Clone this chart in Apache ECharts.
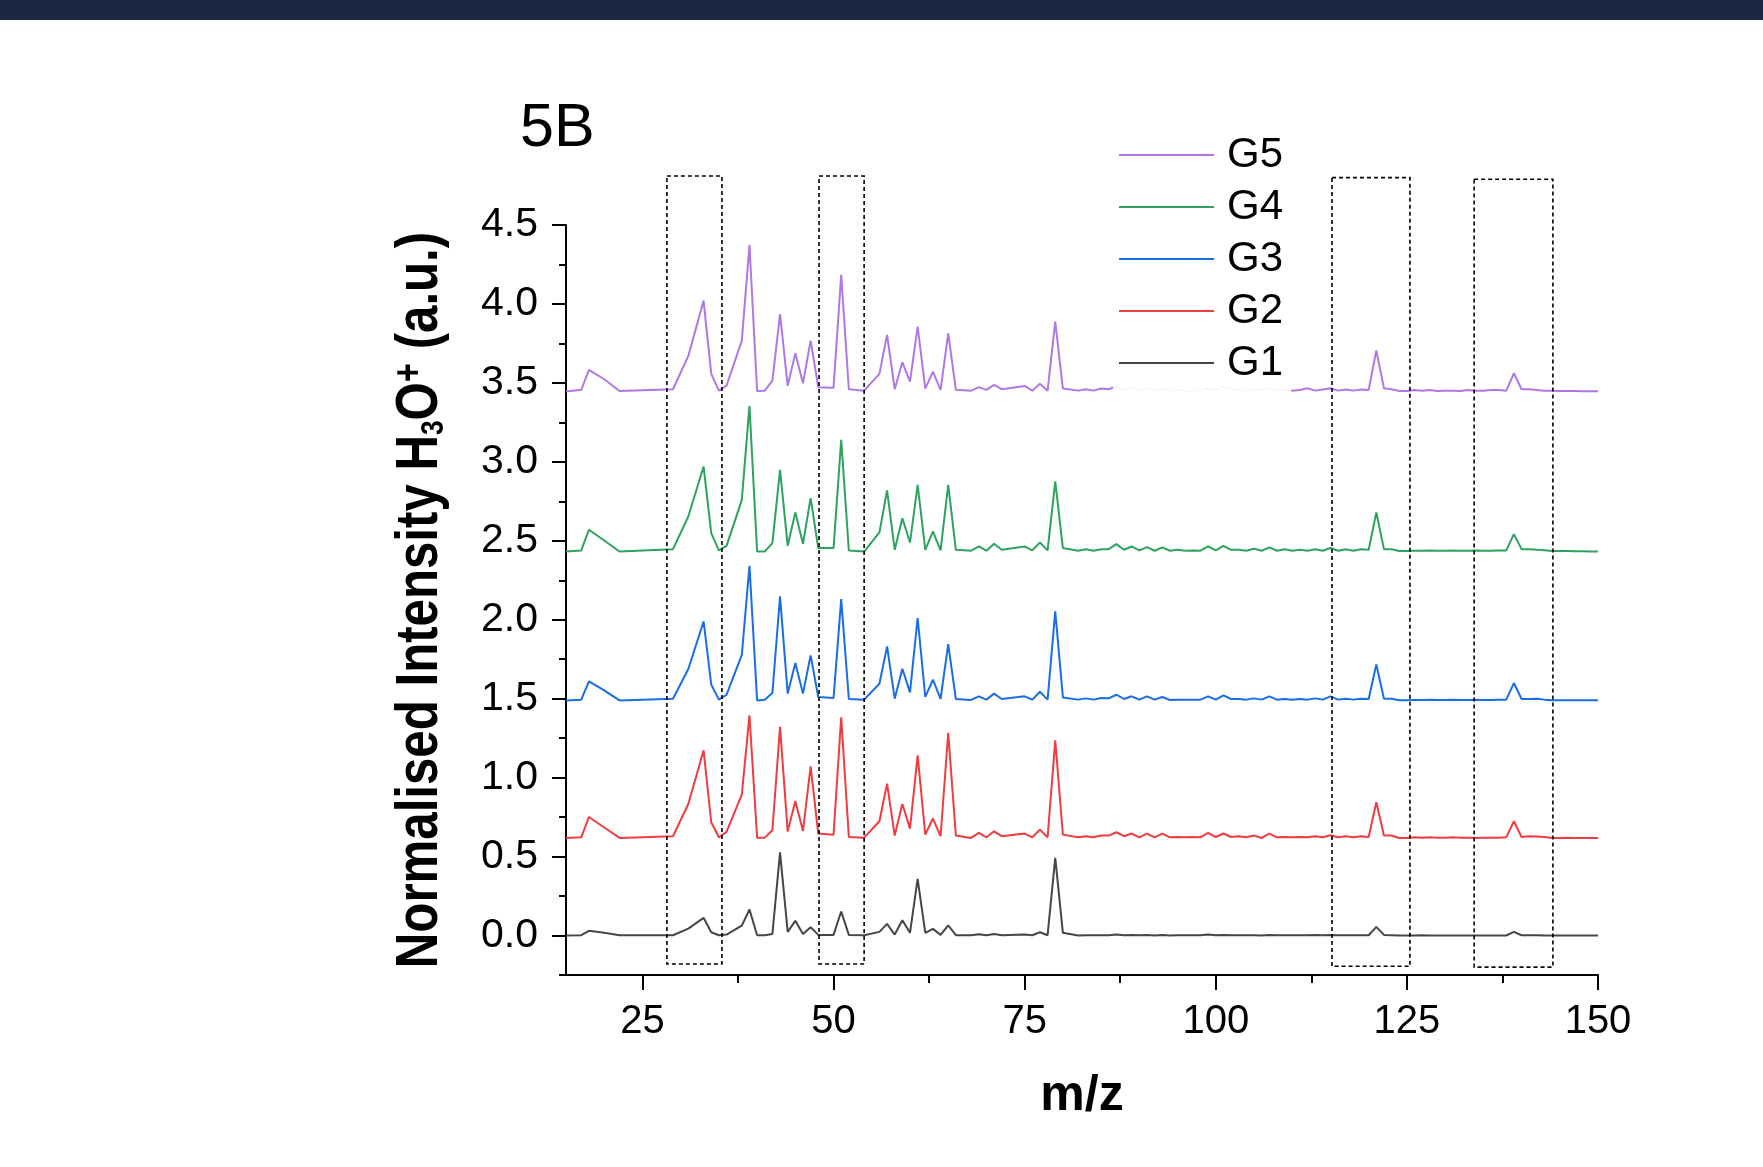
<!DOCTYPE html>
<html>
<head>
<meta charset="utf-8">
<script src="https://cdn.jsdelivr.net/npm/echarts@6/dist/echarts.min.js"></script>
<style>
html,body{margin:0;padding:0;background:#fff;}
#c{width:1763px;height:1167px;}
</style>
</head>
<body>
<div id="c"></div>
<script>
// ---- data ----
const mz = [15,17,18,20,22,29,31,33,34,35,36,38,39,40,41,42,43,44,45,46,47,48,50,51,52,54,56,57,58,59,60,61,62,63,64,65,66,68,69,70,71,72,75,76,77,78,79,80,
  82,83,84,85,86,87,88,89,90,91,92,93,94,95,96,97,98,99,100,101,102,103,104,105,106,107,108,109,110,111,112,113,114,115,116,117,118,119,120,121,122,123,124,125,126,127,128,129,130,131,132,133,134,135,136,137,138,139,140,141,142,143,144,145,146,147,148,149,150];

const g1 = [0.000,0.002,0.030,0.017,0.002, 0.002,0.044,0.112,0.021,0.002, 0.006,0.063,0.165,0.002,0.002, 0.010,0.527,0.023,0.093,0.010, 0.053,0.004,0.004,0.152,0.004, 0.002,0.023,0.074,0.006,0.097, 0.017,0.359,0.017,0.042,0.004, 0.065,0.002,0.002,0.008,0.002, 0.010,0.002,0.006,0.002,0.021, 0.002,0.492,0.017,
  0.000,0.002,0.002,0.002,0.002,0.006,0.002,0.004,0.002,0.004,
  0.000,0.004,0.000,0.002,0.002,0.002,0.002,0.006,0.002,0.004,
  0.002,0.002,0.002,0.002,0.000,0.004,0.002,0.002,0.002,0.002,
  0.002,0.004,0.002,0.004,0.002,0.002,0.002,0.002,0.002,0.055,
  0.004,0.002,0.000,0.000,0.000,0.002,0.000,0.000,0.000,0.000,
  0.000,0.000,0.000,0.000,0.000,0.000,0.000,0.023,0.002,0.002,
  0.002,0.000,0.000,0.000,0.000,0.000,0.000,0.000,0.000];

const g2 = [0.618,0.622,0.751,0.684,0.618, 0.629,0.833,1.173,0.717,0.622, 0.656,0.892,1.395,0.620,0.620, 0.667,1.321,0.658,0.852,0.662, 1.072,0.646,0.639,1.382,0.624, 0.620,0.724,0.962,0.633,0.833, 0.677,1.141,0.639,0.741,0.629, 1.283,0.633,0.618,0.650,0.622, 0.660,0.629,0.646,0.622,0.671, 0.622,1.236,0.639,
  0.622,0.629,0.622,0.633,0.633,0.654,0.629,0.646,0.622,0.646,
  0.622,0.646,0.622,0.624,0.622,0.624,0.622,0.650,0.624,0.646,
  0.624,0.629,0.622,0.633,0.618,0.646,0.622,0.624,0.622,0.624,
  0.622,0.629,0.622,0.635,0.622,0.629,0.622,0.629,0.624,0.844,
  0.633,0.633,0.618,0.618,0.622,0.620,0.622,0.620,0.620,0.622,
  0.620,0.620,0.618,0.620,0.620,0.620,0.622,0.724,0.624,0.629,
  0.627,0.624,0.618,0.618,0.620,0.618,0.618,0.618,0.618];

const g3 = [1.489,1.494,1.610,1.553,1.489, 1.500,1.688,1.989,1.589,1.494, 1.525,1.778,2.342,1.489,1.494, 1.536,2.148,1.532,1.726,1.532, 1.774,1.511,1.504,2.131,1.498, 1.494,1.595,1.831,1.500,1.690, 1.540,2.011,1.511,1.620,1.498, 1.846,1.498,1.492,1.515,1.494, 1.532,1.498,1.515,1.494,1.544, 1.494,2.053,1.508,
  1.494,1.502,1.494,1.504,1.502,1.525,1.498,1.515,1.494,1.515,
  1.494,1.511,1.492,1.494,1.494,1.494,1.494,1.515,1.494,1.521,
  1.498,1.498,1.494,1.502,1.494,1.515,1.494,1.498,1.494,1.498,
  1.494,1.502,1.494,1.515,1.494,1.500,1.494,1.500,1.498,1.716,
  1.500,1.500,1.490,1.490,1.492,1.492,1.494,1.492,1.492,1.494,
  1.492,1.492,1.494,1.492,1.492,1.494,1.494,1.599,1.498,1.498,
  1.500,1.494,1.490,1.490,1.490,1.490,1.490,1.490,1.490];

const g4 = [2.432,2.439,2.570,2.502,2.432, 2.447,2.654,2.970,2.549,2.439, 2.468,2.759,3.354,2.432,2.432, 2.485,2.949,2.468,2.679,2.481, 2.770,2.454,2.454,3.139,2.439, 2.432,2.553,2.819,2.443,2.643, 2.489,2.854,2.443,2.559,2.439, 2.854,2.443,2.437,2.464,2.437, 2.481,2.443,2.464,2.439,2.489, 2.439,2.876,2.454,
  2.437,2.447,2.437,2.447,2.447,2.479,2.443,2.464,2.439,2.460,
  2.437,2.458,2.437,2.443,2.437,2.439,2.437,2.464,2.439,2.468,
  2.443,2.443,2.437,2.450,2.437,2.458,2.437,2.447,2.437,2.443,
  2.437,2.447,2.437,2.454,2.437,2.447,2.437,2.447,2.443,2.679,
  2.447,2.447,2.435,2.435,2.437,2.437,2.439,2.437,2.437,2.439,
  2.437,2.437,2.439,2.437,2.437,2.439,2.439,2.542,2.447,2.447,
  2.443,2.440,2.435,2.435,2.435,2.433,2.433,2.432,2.432];

const g5 = [3.445,3.456,3.582,3.523,3.449, 3.460,3.671,4.021,3.557,3.451, 3.483,3.768,4.373,3.449,3.451, 3.515,3.935,3.481,3.688,3.498, 3.768,3.473,3.470,4.184,3.460, 3.451,3.557,3.804,3.460,3.631, 3.508,3.857,3.464,3.571,3.456, 3.814,3.456,3.451,3.473,3.456, 3.487,3.460,3.481,3.451,3.494, 3.451,3.888,3.464,
  3.451,3.460,3.451,3.464,3.460,3.480,3.455,3.470,3.452,3.468,
  3.451,3.466,3.451,3.455,3.451,3.453,3.451,3.470,3.453,3.474,
  3.455,3.455,3.451,3.460,3.451,3.468,3.451,3.458,3.451,3.455,
  3.466,3.451,3.458,3.466,3.451,3.458,3.451,3.458,3.455,3.705,
  3.466,3.460,3.449,3.449,3.455,3.451,3.455,3.449,3.451,3.451,
  3.449,3.455,3.451,3.451,3.455,3.455,3.451,3.561,3.460,3.460,
  3.455,3.451,3.451,3.449,3.449,3.449,3.447,3.447,3.447];

const seriesNames = ['G1','G2','G3','G4','G5'];
const seriesColors = ['#464646','#f03c40','#196ee6','#2ea35f','#b078e6'];
const seriesValues = [g1,g2,g3,g4,g5];
const legendOrder = ['G5','G4','G3','G2','G1'];

const xMajorTicks = [25,50,75,100,125,150];
const xMinorTicks = [37.5,62.5,87.5,112.5,137.5];
const yMajorTicks = [0,0.5,1,1.5,2,2.5,3,3.5,4,4.5];
const yMinorTicks = [-0.25,0.25,0.75,1.25,1.75,2.25,2.75,3.25,3.75,4.25];

// dashed highlight boxes: [mz from, mz to, top value, bottom value]
const boxes = [[28.2,35.4,4.81,-0.18],[48.1,54.0,4.81,-0.18],[115.2,125.4,4.80,-0.195],[133.8,144.1,4.79,-0.20]];

const yTitle = '{m|Normalised Intensity H}{sub|3}{m|O}{sup|+}{m| (a.u.)}';

// ---- chart ----
const FONT = "'Liberation Sans', Arial, sans-serif";
const chart = echarts.init(document.getElementById('c'), null, {renderer:'canvas'});

const option = {
  backgroundColor:'#ffffff',
  animation:false,
  title:{text:'5B', left:515, top:94, textStyle:{fontFamily:FONT, fontSize:61, fontWeight:'normal', color:'#000'}},
  grid:{left:566, top:225, right:165, bottom:192, containLabel:false},
  legend:{
    orient:'vertical', left:1113, top:129,
    data: legendOrder.map(function(n){ return {name:n, icon:'rect'}; }),
    itemWidth:95, itemHeight:2, itemGap:10,
    padding:[5,8,14,6],
    backgroundColor:'rgba(255,255,255,0.92)',
    textStyle:{fontFamily:FONT, fontSize:42, lineHeight:40, color:'#000', padding:[0,0,0,8]}
  },
  xAxis:[
    {type:'value', min:15, max:150, position:'bottom',
     name:'m/z', nameLocation:'middle', nameGap:96,
     nameTextStyle:{fontFamily:FONT, fontSize:50, fontWeight:'bold', color:'#000'},
     axisLine:{show:true, onZero:false, lineStyle:{color:'#000', width:2}},
     axisTick:{show:true, inside:false, length:15, customValues:xMajorTicks, lineStyle:{color:'#000', width:2}},
     axisLabel:{show:true, customValues:xMajorTicks, margin:27, fontFamily:FONT, fontSize:40, color:'#000'},
     splitLine:{show:false}},
    {type:'value', min:15, max:150, position:'bottom',
     axisLine:{show:false, onZero:false},
     axisTick:{show:true, length:8, customValues:xMinorTicks, lineStyle:{color:'#000', width:2}},
     axisLabel:{show:false}, splitLine:{show:false}}
  ],
  yAxis:[
    {type:'value', min:-0.25, max:4.5, position:'left',
     axisLine:{show:true, onZero:false, lineStyle:{color:'#000', width:2}},
     axisTick:{show:true, length:14, customValues:yMajorTicks, lineStyle:{color:'#000', width:2}},
     axisLabel:{show:true, customValues:yMajorTicks, margin:28, fontFamily:FONT, fontSize:41, color:'#000',
       formatter:function(v){return Number(v).toFixed(1);}},
     splitLine:{show:false}},
    {type:'value', min:-0.25, max:4.5, position:'left',
     axisLine:{show:false, onZero:false},
     axisTick:{show:true, length:7, customValues:yMinorTicks, lineStyle:{color:'#000', width:2}},
     axisLabel:{show:false}, splitLine:{show:false}}
  ],
  series: seriesNames.map(function(n,k){
    return {
      name:n, type:'line', xAxisIndex:0, yAxisIndex:0,
      symbol:'none', showSymbol:false, smooth:false,
      lineStyle:{color:seriesColors[k], width:2},
      itemStyle:{color:seriesColors[k]},
      data: mz.map(function(x,i){return [x, seriesValues[k][i]];}),
      z:2
    };
  })
};
chart.setOption(option);

const band = {id:'band', type:'rect', shape:{x:0,y:0,width:1763,height:20}, style:{fill:'#1b2742'}, z:20};
const boxGraphics = boxes.map(function(b,i){
  const p0 = chart.convertToPixel({xAxisIndex:0, yAxisIndex:0}, [b[0], b[2]]);
  const p1 = chart.convertToPixel({xAxisIndex:0, yAxisIndex:0}, [b[1], b[3]]);
  return {id:'box'+i, type:'rect',
    shape:{x:p0[0], y:p0[1], width:p1[0]-p0[0], height:p1[1]-p0[1]},
    style:{fill:'none', stroke:'#000', lineWidth:1.6, lineDash:[4,3]}, z:10};
});
// y-axis title, condensed bold (narrow face emulated with a horizontal scale along the text)
const yMid = chart.convertToPixel({yAxisIndex:0}, (-0.25 + 4.5) / 2);
const yTitleGraphic = {
  id:'ytitle', type:'text', x:420, y:yMid, rotation:Math.PI/2, scaleX:0.82, scaleY:1, z:10,
  style:{
    text:yTitle, align:'center', verticalAlign:'middle',
    fontFamily:FONT, fontWeight:'bold', fontSize:60, fill:'#000',
    rich:{
      m:{fontFamily:FONT, fontWeight:'bold', fontSize:60, lineHeight:60, fill:'#000'},
      sub:{fontFamily:FONT, fontWeight:'bold', fontSize:32, lineHeight:29, verticalAlign:'bottom', fill:'#000'},
      sup:{fontFamily:FONT, fontWeight:'bold', fontSize:40, lineHeight:20, verticalAlign:'top', fill:'#000'}
    }
  }
};
chart.setOption({graphic:[band, yTitleGraphic].concat(boxGraphics)});
</script>
</body>
</html>
